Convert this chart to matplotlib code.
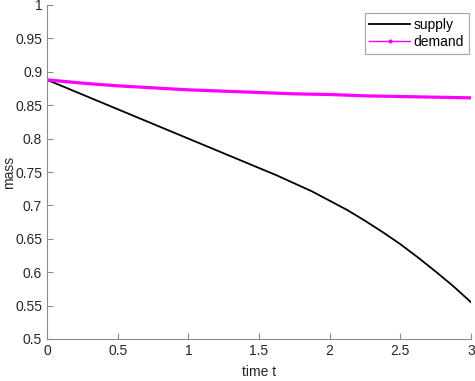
import matplotlib
matplotlib.use("Agg")
import matplotlib.pyplot as plt
from matplotlib.lines import Line2D

plt.rcParams['font.family'] = ['Liberation Sans', 'DejaVu Sans']

t = [0, 0.25, 0.5, 0.75, 1.0, 1.25, 1.5, 1.625, 1.75, 1.875, 2.0, 2.125, 2.25,
     2.375, 2.5, 2.625, 2.75, 2.875, 3.0]
supply = [0.888, 0.866, 0.844, 0.822, 0.800, 0.778, 0.756, 0.745, 0.733, 0.721, 0.707,
          0.693, 0.677, 0.660, 0.642, 0.622, 0.601, 0.579, 0.555]
demand = [0.888, 0.883, 0.879, 0.876, 0.873, 0.871, 0.869, 0.868, 0.867, 0.8665, 0.866,
          0.865, 0.864, 0.8635, 0.863, 0.8625, 0.862, 0.8615, 0.861]

xticks = [0, 0.5, 1, 1.5, 2, 2.5, 3]
yticks = [0.5, 0.55, 0.6, 0.65, 0.7, 0.75, 0.8, 0.85, 0.9, 0.95, 1]

fig = plt.figure(figsize=(4.75, 3.81), dpi=100)
ax = fig.add_axes([47 / 475, 42 / 381, 424 / 475, 334 / 381])

ax.plot(t, supply, color='black', lw=1.3)
ax.plot(t, demand, color='#ff00ff', lw=2.3)

ax.set_xlim(0, 3)
ax.set_ylim(0.5, 1)
ax.set_xticks(xticks)
ax.set_xticklabels([f"{v:g}" for v in xticks])
ax.set_yticks(yticks)
ax.set_yticklabels([f"{v:g}" for v in yticks])

for s in ['top', 'right']:
    ax.spines[s].set_visible(False)
for s in ['left', 'bottom']:
    ax.spines[s].set_color('#8c8c8c')
ax.tick_params(direction='in', length=4, color='#8c8c8c', labelsize=10, labelcolor='#262626')
ax.set_xlabel('time t', fontsize=10, color='#262626')
ax.set_ylabel('mass', fontsize=10, color='#262626')
ax.xaxis.set_label_coords(0.5, -0.078)
ax.yaxis.set_label_coords(-0.072, 0.5)

handles = [Line2D([], [], color='black', lw=1.3),
           Line2D([], [], color='#ff00ff', lw=1, marker='.', markersize=4)]
leg = ax.legend(handles, ['supply', 'demand'], loc='upper right', bbox_to_anchor=(0.9955, 0.976),
                fontsize=10, frameon=True, fancybox=False, handlelength=2.9,
                borderpad=0.35, labelspacing=0.25, handletextpad=0.3, borderaxespad=0)
leg.get_frame().set_edgecolor('#8c8c8c')
leg.get_frame().set_linewidth(0.8)

fig.savefig('out.png', dpi=100)
